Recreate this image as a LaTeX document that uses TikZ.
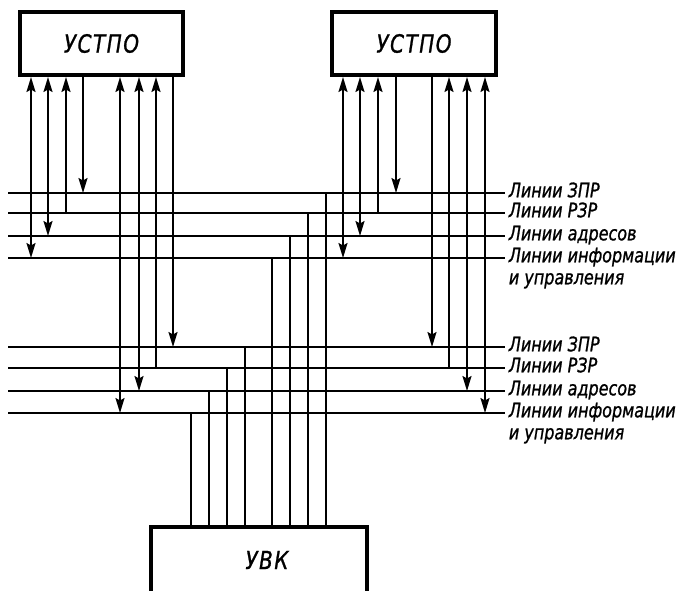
\documentclass[tikz,border=0pt]{standalone}
\usepackage{fontspec}
\setmainfont{DejaVu Sans}[FakeStretch=0.8, FakeBold=1]
\usetikzlibrary{arrows.meta, positioning}

\begin{document}
\begin{tikzpicture}[
    x=1pt, y=-1pt,
    line width=1.8pt,
    >={Stealth[length=15pt, width=9pt, inset=2.5pt]},
    unit/.style={rectangle, draw, line width=4pt, font=\fontsize{25}{28}\selectfont\itshape\addfontfeature{LetterSpace=6}},
    bus/.style={font=\fontsize{20}{22}\selectfont\itshape, inner sep=3pt, text height=8.6pt, text depth=0pt}
]
\useasboundingbox (0,0) rectangle (691,590);

% Units
\node[unit, minimum width=163pt, minimum height=63pt] (ustpoA) at (101.5,43.5) {УСТПО};
\node[unit, minimum width=164pt, minimum height=63pt] (ustpoB) at (414,43.5) {УСТПО};
\node[unit, minimum width=216pt, minimum height=120pt, anchor=north] (uvk) at (259,525) {};
\node[font=\fontsize{25}{28}\selectfont\itshape\addfontfeature{LetterSpace=6}] (uvkname) at (267,560) {УВК};

% Upper bus
\coordinate (zprA) at (8,193);
\coordinate (rzrA) at (8,213);
\coordinate (adrA) at (8,236);
\coordinate (infA) at (8,258);
\node[bus, right=497pt of zprA] (lzprA) {Линии ЗПР};
\node[bus, right=497pt of rzrA] (lrzrA) {Линии РЗР};
\node[bus, right=497pt of adrA] (ladrA) {Линии адресов};
\node[bus, right=497pt of infA] (linfA) {Линии информации};
\node[bus, anchor=base west] (linfA2) at ([yshift=-22pt]linfA.base west) {и управления};
\draw (zprA) -- (lzprA.west);
\draw (rzrA) -- (lrzrA.west);
\draw (adrA) -- (ladrA.west);
\draw (infA) -- (linfA.west);

% Lower bus
\coordinate (zprB) at (8,347);
\coordinate (rzrB) at (8,368);
\coordinate (adrB) at (8,391);
\coordinate (infB) at (8,413);
\node[bus, right=497pt of zprB] (lzprB) {Линии ЗПР};
\node[bus, right=497pt of rzrB] (lrzrB) {Линии РЗР};
\node[bus, right=497pt of adrB] (ladrB) {Линии адресов};
\node[bus, right=497pt of infB] (linfB) {Линии информации};
\node[bus, anchor=base west] (linfB2) at ([yshift=-22pt]linfB.base west) {и управления};
\draw (zprB) -- (lzprB.west);
\draw (rzrB) -- (lrzrB.west);
\draw (adrB) -- (ladrB.west);
\draw (infB) -- (linfB.west);

% Left unit
\draw[<->] (31,0 |- ustpoA.south) -- (31,0 |- infA);
\draw[<->] (48,0 |- ustpoA.south) -- (48,0 |- adrA);
\draw[<-] (66,0 |- ustpoA.south) -- (66,0 |- rzrA);
\draw[->] (83,0 |- ustpoA.south) -- (83,0 |- zprA);
\draw[<->] (120,0 |- ustpoA.south) -- (120,0 |- infB);
\draw[<->] (139,0 |- ustpoA.south) -- (139,0 |- adrB);
\draw[<-] (156,0 |- ustpoA.south) -- (156,0 |- rzrB);
\draw[->] (173,0 |- ustpoA.south) -- (173,0 |- zprB);

% Right unit
\draw[<->] (343,0 |- ustpoB.south) -- (343,0 |- infA);
\draw[<->] (360,0 |- ustpoB.south) -- (360,0 |- adrA);
\draw[<-] (378,0 |- ustpoB.south) -- (378,0 |- rzrA);
\draw[->] (396,0 |- ustpoB.south) -- (396,0 |- zprA);
\draw[->] (432,0 |- ustpoB.south) -- (432,0 |- zprB);
\draw[<-] (449,0 |- ustpoB.south) -- (449,0 |- rzrB);
\draw[<->] (467,0 |- ustpoB.south) -- (467,0 |- adrB);
\draw[<->] (485,0 |- ustpoB.south) -- (485,0 |- infB);

% UVK
\draw (191,0 |- uvk.north) -- (191,0 |- infB);
\draw (209,0 |- uvk.north) -- (209,0 |- adrB);
\draw (227,0 |- uvk.north) -- (227,0 |- rzrB);
\draw (245,0 |- uvk.north) -- (245,0 |- zprB);
\draw (272,0 |- uvk.north) -- (272,0 |- infA);
\draw (290,0 |- uvk.north) -- (290,0 |- adrA);
\draw (308,0 |- uvk.north) -- (308,0 |- rzrA);
\draw (326,0 |- uvk.north) -- (326,0 |- zprA);

\end{tikzpicture}
\end{document}
